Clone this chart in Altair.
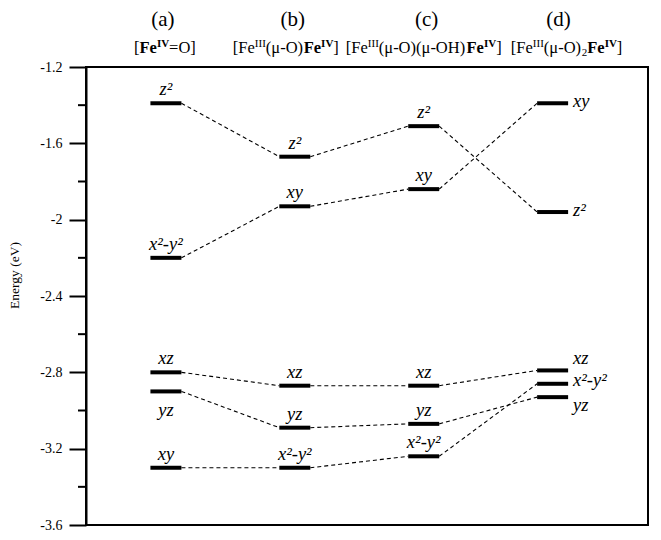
import altair as alt
import pandas as pd

# ---------------- data ----------------
columns = ["(a)", "(b)", "(c)", "(d)"]
col_pos = [1, 2, 3, 4]

subtitles = [
    [("[", "n"), ("Fe", "b"), ("IV", "supb"), ("=O]", "n")],
    [("[Fe", "n"), ("III", "sup"), ("(μ-O)", "n"), ("Fe", "b"), ("IV", "supb"), ("]", "n")],
    [("[Fe", "n"), ("III", "sup"), ("(μ-O)(μ-OH)", "n"), ("Fe", "b"), ("IV", "supb"), ("]", "n")],
    [("[Fe", "n"), ("III", "sup"), ("(μ-O)", "n"), ("2", "sub"), ("Fe", "b"), ("IV", "supb"), ("]", "n")],
]

orbitals_a = ["z²", "x²-y²", "xz", "yz", "xy"]
energy_a = [-1.39, -2.20, -2.80, -2.90, -3.30]
orbitals_b = ["z²", "xy", "xz", "yz", "x²-y²"]
energy_b = [-1.67, -1.93, -2.87, -3.09, -3.30]
orbitals_c = ["z²", "xy", "xz", "yz", "x²-y²"]
energy_c = [-1.51, -1.84, -2.87, -3.07, -3.24]
orbitals_d = ["xy", "z²", "xz", "x²-y²", "yz"]
energy_d = [-1.39, -1.96, -2.79, -2.86, -2.93]

# label placement (style)
place_a = ["above", "above", "above", "below", "above"]
place_b = ["above"] * 5
place_c = ["above"] * 5
place_d = ["right_lo", "right_lo", "right_up", "right_mid", "right_down"]

# correlation links: (from index, to index) between neighbouring columns
links_ab = [(0, 0), (1, 1), (2, 2), (3, 3), (4, 4)]
links_bc = [(0, 0), (1, 1), (2, 2), (3, 3), (4, 4)]
links_cd = [(0, 1), (1, 0), (2, 2), (3, 4), (4, 3)]

major_ticks = [-1.2, -1.6, -2, -2.4, -2.8, -3.2, -3.6]
minor_ticks = [-1.4, -1.8, -2.2, -2.6, -3.0, -3.4]

# ---------------- layout ----------------
W, H = 562, 458
X0, X1 = 0.38, 4.74
PPU = W / (X1 - X0)
HW = 15.5 / PPU
FONT = "Liberation Serif"
head_shift = [-3, -2, 3, 6]       # px, horizontal fine placement of (a)...(d)
sub_shift = [-1, -9, 0, 14]       # px, horizontal fine placement of subtitles

xs = alt.Scale(domain=[X0, X1], nice=False, zero=False)
ys = alt.Scale(domain=[-3.6, -1.2], nice=False, zero=False)
yaxis = alt.Axis(
    values=major_ticks,
    labelExpr="'' + datum.value",
    title="Energy (eV)",
    tickSize=17, tickWidth=2, tickColor="black",
    domainColor="black", domainWidth=2,
    labelFont=FONT, labelFontSize=14, labelColor="black", labelPadding=7,
    titleFont=FONT, titleFontSize=13.5, titleFontWeight="normal", titleColor="black",
    titleAngle=270, titleX=-72, titleY=208, titleAlign="center", titleBaseline="middle",
    grid=False,
)
Y = alt.Y("energy:Q", scale=ys, axis=yaxis)

all_orbs = [orbitals_a, orbitals_b, orbitals_c, orbitals_d]
all_en = [energy_a, energy_b, energy_c, energy_d]
all_place = [place_a, place_b, place_c, place_d]

rows = []
for ci in range(4):
    for i, (o, e, p) in enumerate(zip(all_orbs[ci], all_en[ci], all_place[ci])):
        rows.append({"col": columns[ci], "pos": col_pos[ci], "orb": o, "energy": e,
                     "place": p, "xl": col_pos[ci] - HW, "xr": col_pos[ci] + HW})
levels = pd.DataFrame(rows)

link_rows = []
for ci, lk in enumerate([links_ab, links_bc, links_cd]):
    for fi, ti in lk:
        link_rows.append({"x": col_pos[ci] + HW, "x2": col_pos[ci + 1] - HW,
                          "energy": all_en[ci][fi], "energy2": all_en[ci + 1][ti]})
links = pd.DataFrame(link_rows)

bars = alt.Chart(levels).mark_rule(color="black", strokeWidth=4, strokeCap="butt").encode(
    x=alt.X("xl:Q", scale=xs, axis=None), x2="xr:Q", y=Y)

conn = alt.Chart(links).mark_rule(color="black", strokeWidth=1.1, strokeDash=[4, 3]).encode(
    x=alt.X("x:Q", scale=xs, axis=None), x2="x2:Q", y=Y, y2="energy2:Q")

minor = alt.Chart(pd.DataFrame({"energy": minor_ticks})).mark_rule(
    color="black", strokeWidth=2).encode(x=alt.value(-8), x2=alt.value(0), y=Y)

RX = HW * PPU + 5
place_style = {
    "above": dict(align="center", dx=0, dy=-8),
    "below": dict(align="center", dx=0, dy=25),
    "right_lo": dict(align="left", dx=RX, dy=4),
    "right_up": dict(align="left", dx=RX, dy=-6),
    "right_mid": dict(align="left", dx=RX, dy=2),
    "right_down": dict(align="left", dx=RX, dy=14),
}
label_layers = []
for p, st in place_style.items():
    label_layers.append(
        alt.Chart(levels).transform_filter(alt.datum.place == p).mark_text(
            font=FONT, fontSize=18.5, fontStyle="italic", color="black",
            baseline="alphabetic", **st).encode(
            x=alt.X("pos:Q", scale=xs, axis=None), y=Y, text="orb:N"))

# headers
head_df = pd.DataFrame({"x": [p + s / PPU for p, s in zip(col_pos, head_shift)], "text": columns})
head = alt.Chart(head_df).mark_text(
    font=FONT, fontSize=21, color="black", baseline="alphabetic", align="center").encode(
    x=alt.X("x:Q", scale=xs, axis=None), y=alt.value(-41), text="text:N")

reg = {'[': 333, ']': 333, '(': 333, ')': 333, '-': 333, '=': 564, 'O': 722, 'H': 722,
       'F': 556, 'e': 444, 'I': 333, 'V': 722, '2': 500, 'μ': 576}
bold = {'F': 611, 'e': 444, 'I': 389, 'V': 722}
kind_style = {
    "n": dict(size=16.5, weight="normal", dy=0),
    "b": dict(size=16.5, weight="bold", dy=0),
    "sup": dict(size=11, weight="normal", dy=-6),
    "supb": dict(size=11, weight="bold", dy=-6),
    "sub": dict(size=11, weight="normal", dy=3),
}


def seg_width(text, kind):
    tbl = bold if kind in ("b", "supb") else reg
    return sum(tbl.get(c, reg.get(c, 500)) for c in text) * kind_style[kind]["size"] / 1000


seg_rows = []
for ci, segs in enumerate(subtitles):
    total = sum(seg_width(t, k) for t, k in segs)
    off = -total / 2 + sub_shift[ci]
    for t, k in segs:
        seg_rows.append({"x": col_pos[ci] + off / PPU, "text": t, "kind": k})
        off += seg_width(t, k)
segs_df = pd.DataFrame(seg_rows)

sub_layers = []
for k, st in kind_style.items():
    sub_layers.append(
        alt.Chart(segs_df).transform_filter(alt.datum.kind == k).mark_text(
            font=FONT, fontSize=st["size"], fontWeight=st["weight"], color="black",
            align="left", baseline="alphabetic").encode(
            x=alt.X("x:Q", scale=xs, axis=None), y=alt.value(-14 + st["dy"]), text="text:N"))

chart = alt.layer(bars, conn, minor, *label_layers, head, *sub_layers).properties(
    width=W, height=H,
    autosize=alt.AutoSizeParams(type="none"),
    padding={"left": 78, "top": 59, "right": 2, "bottom": 6},
    background="white",
).configure_view(stroke="black", strokeWidth=2).configure_axis(
    labelFont=FONT, labelFontSize=14, titleFont=FONT, titleFontSize=13.5,
    titleFontWeight="normal", labelColor="black", titleColor="black")

chart.save("out.html", embed_options={"renderer": "svg", "actions": False})
